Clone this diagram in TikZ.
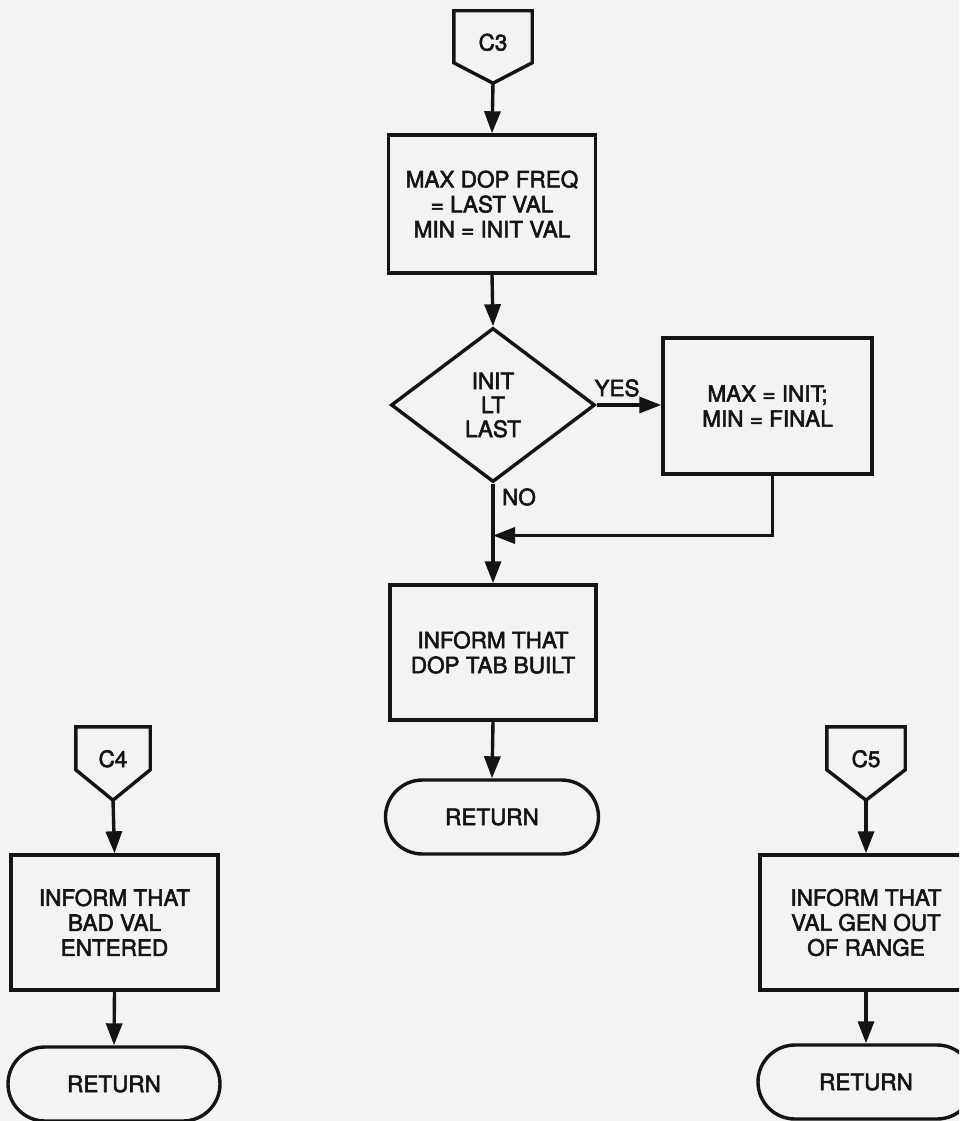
\documentclass[tikz,border=0pt]{standalone}
\usepackage{fontspec}
\setmainfont{TeX Gyre Heros}[FakeBold=2.5]
\usetikzlibrary{shapes.geometric,shapes.misc,arrows.meta,calc}

\definecolor{paper}{RGB}{243,243,241}
\definecolor{ink}{RGB}{20,20,20}

\tikzset{
  ln/.style={draw=ink, line width=3.4pt, line join=miter},
  arr/.style={ln, -{Triangle[length=22pt,width=16pt]}},
  txt/.style={text=ink, font=\fontsize{22.5}{25}\selectfont, align=center, inner sep=0pt},
  procbox/.style={txt, ln, rectangle, minimum width=207pt, minimum height=136pt},
  decision/.style={txt, ln, diamond, minimum width=204pt, minimum height=154pt},
  terminal/.style={txt, ln, rounded rectangle, minimum width=213pt, minimum height=74pt},
  offpage/.style={txt, rectangle, minimum width=#1, text height=16pt, text depth=9pt},
}

\begin{document}
\begin{tikzpicture}[x=1pt, y=-1pt]
  \useasboundingbox (0,0) rectangle (959,1121);
  \fill[paper] (0,0) rectangle (959,1121);
  \clip (0,0) rectangle (959,1121);

  % ---- main flow: entry C3 ----
  \node[offpage=78pt, minimum height=72pt] (c3) at (493,47) {C3};
  \draw[ln] (c3.north west) -- (c3.north east) -- ($(c3.north east)+(0,52)$)
            -- (c3.south) -- ($(c3.north west)+(0,52)$) -- cycle;

  \node[procbox, minimum height=138pt] (b1) at (492,204)
       {MAX DOP FREQ\\= LAST VAL\\MIN = INIT VAL};
  \node[decision, font=\fontsize{22.5}{24}\selectfont] (d1) at (493,405)
       {INIT\\LT\\LAST};
  \node[procbox, minimum width=209pt] (b2) at (767.5,406)
       {MAX = INIT;\\MIN = FINAL};
  \node[procbox, minimum width=206pt, minimum height=135pt] (b3) at (493,652.5)
       {INFORM THAT\\DOP TAB BUILT};
  \node[terminal] (r1) at (492,817) {RETURN};

  \node[txt] (yes) at (617,388) {YES};
  \node[txt] (no)  at (519,497) {NO};

  \coordinate (m) at ($(d1.south)!0.5!(b3.north)+(0,2)$);

  \draw[arr] (c3.south) -- (b1.north);
  \draw[arr] (b1.south) -- (d1.north);
  \draw[arr] (d1.east) -- (d1.east -| b2.west);
  \draw[arr] (d1.south) -- (b3.north);
  \draw[arr] ($(b2.south)+(5,0)$) |- (m);
  \draw[arr] (b3.south) -- (r1.north);

  % ---- entry C4 ----
  \node[offpage=74pt, minimum height=73pt] (c4) at (113,763.5) {C4};
  \draw[ln] (c4.north west) -- (c4.north east) -- ($(c4.north east)+(0,43)$)
            -- (c4.south) -- ($(c4.north west)+(0,43)$) -- cycle;
  \node[procbox, minimum height=135pt] (b4) at (114.5,922.5)
       {INFORM THAT\\BAD VAL\\ENTERED};
  \node[terminal, minimum width=212pt] (r2) at (114,1084) {RETURN};
  \draw[arr] (c4.south) -- (b4.north);
  \draw[arr] (b4.south) -- (r2.north);

  % ---- entry C5 ----
  \node[offpage=78pt, minimum height=73pt] (c5) at (866,763.5) {C5};
  \draw[ln] (c5.north west) -- (c5.north east) -- ($(c5.north east)+(0,43)$)
            -- (c5.south) -- ($(c5.north west)+(0,43)$) -- cycle;
  \node[procbox, minimum width=212pt, minimum height=135pt] (b5) at (866,922.5)
       {INFORM THAT\\VAL GEN OUT\\OF RANGE};
  \node[terminal, minimum width=216pt] (r3) at (866,1082) {RETURN};
  \draw[arr] (c5.south) -- (b5.north);
  \draw[arr] (b5.south) -- (r3.north);
\end{tikzpicture}
\end{document}
